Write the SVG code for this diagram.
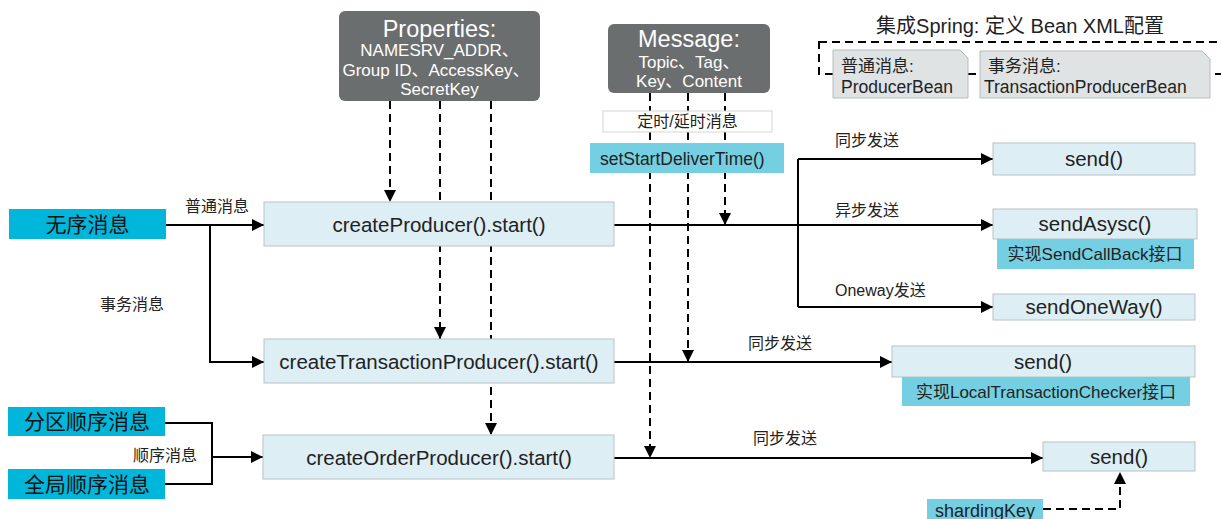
<svg xmlns="http://www.w3.org/2000/svg" width="1221" height="519" viewBox="0 0 1221 519">
<defs>
<marker id="ah" markerUnits="userSpaceOnUse" markerWidth="13" markerHeight="13" refX="12" refY="6" orient="auto">
<path d="M0,0 L12,6 L0,12 Z" fill="#000"/>
</marker>
<style>
text{font-family:"Liberation Sans","Noto Sans CJK SC",sans-serif;fill:#222}
.c{text-anchor:middle}
.dark{fill:#6b6e6e}
.wt{fill:#fff}
.lb{fill:#ddeef5;stroke:#b8c3c7;stroke-width:1}
.cy{fill:#00b6da}
.ty{fill:#74cfe3}
.bean{fill:#dfe3e4;stroke:#b6bdbf;stroke-width:1}
.sl{fill:none;stroke:#000;stroke-width:2}
.dl{fill:none;stroke:#000;stroke-width:2;stroke-dasharray:8 5}
.ar{marker-end:url(#ah)}
.lbl{font-size:16px}
.big{font-size:20.5px}
</style>
</defs>
<rect width="1221" height="519" fill="#fff"/>

<g id="connectors">
<path class="dl ar" d="M390,101 V202"/>
<path class="dl ar" d="M440,101 V339"/>
<path class="dl ar" d="M491,101 V435"/>
<path class="dl ar" d="M725,93 V225"/>
<path class="dl ar" d="M688,93 V362"/>
<path class="dl ar" d="M650,93 V458"/>
<path class="sl ar" d="M166,225 H264"/>
<path class="sl ar" d="M210,225 V362 H264"/>
<path class="sl" d="M165,423 H212 V484 H165"/>
<path class="sl ar" d="M212,457 H263"/>
<path class="sl ar" d="M614,225 H993"/>
<path class="sl" d="M798,159 V307"/>
<path class="sl ar" d="M798,159 H993"/>
<path class="sl ar" d="M798,307 H993"/>
<path class="sl ar" d="M614,362 H892"/>
<path class="sl ar" d="M614,458 H1043"/>
<path class="dl ar" d="M1043,509 H1120 V472"/>
<rect x="819" y="42" width="420" height="32" class="dl"/>
<text class="lbl c" x="217" y="212">普通消息</text>
<text class="lbl c" x="132" y="310">事务消息</text>
<text class="lbl c" x="165" y="461">顺序消息</text>
<text class="lbl" x="835" y="146">同步发送</text>
<text class="lbl" x="835" y="216">异步发送</text>
<text class="lbl" x="835" y="296">Oneway发送</text>
<text class="lbl" x="748" y="349">同步发送</text>
<text class="lbl" x="753" y="444">同步发送</text>
</g>

<g id="title">
<text class="c" x="1020" y="33" font-size="20">集成Spring: 定义 Bean XML配置</text>
</g>

<g id="properties">
<rect x="339" y="11" width="201" height="90" rx="6" class="dark"/>
<text class="c wt" x="439.5" y="37" font-size="23.5">Properties:</text>
<text class="c wt" x="439.5" y="56" font-size="17">NAMESRV_ADDR、</text>
<text class="c wt" x="436" y="76" font-size="17">Group ID、AccessKey、</text>
<text class="c wt" x="439.5" y="95" font-size="17">SecretKey</text>
</g>

<g id="message">
<rect x="608" y="24" width="162" height="69" rx="6" class="dark"/>
<text class="c wt" x="689" y="47" font-size="23.5">Message:</text>
<text class="c wt" x="689" y="68" font-size="17">Topic、Tag、</text>
<text class="c wt" x="689" y="87" font-size="17">Key、Content</text>
</g>

<g id="timed">
<rect x="603" y="111" width="169" height="21" fill="#fff" stroke="#d6d6d6"/>
<text class="c" x="687.5" y="127" font-size="16">定时/延时消息</text>
</g>

<g id="setStartDeliverTime">
<rect x="590" y="143" width="194" height="30" class="ty"/>
<text x="600" y="165" font-size="17.5">setStartDeliverTime()</text>
</g>

<g id="producerBean">
<path d="M833,50 H960 L968,58 V98 H833 Z" class="bean"/>
<text x="841" y="72" font-size="17">普通消息:</text>
<text x="841" y="93" font-size="17.5">ProducerBean</text>
</g>

<g id="transactionProducerBean">
<path d="M980,51 H1202 L1210,59 V98 H980 Z" class="bean"/>
<text x="988" y="72" font-size="17">事务消息:</text>
<text x="984" y="93" font-size="17.5">TransactionProducerBean</text>
</g>

<g id="unordered">
<rect x="9" y="209" width="157" height="30" class="cy"/>
<text class="c" x="87.5" y="232" font-size="21" style="fill:#111">无序消息</text>
</g>

<g id="partitionOrder">
<rect x="8" y="407" width="157" height="29" class="cy"/>
<text class="c" x="87" y="429" font-size="21" style="fill:#111">分区顺序消息</text>
</g>

<g id="globalOrder">
<rect x="8" y="469" width="157" height="30" class="cy"/>
<text class="c" x="87" y="492" font-size="21" style="fill:#111">全局顺序消息</text>
</g>

<g id="createProducer">
<rect x="264" y="202" width="350" height="44" class="lb"/>
<text class="c big" x="439" y="232">createProducer().start()</text>
</g>

<g id="createTransactionProducer">
<rect x="264" y="339" width="350" height="44" class="lb"/>
<text class="c big" x="439" y="369">createTransactionProducer().start()</text>
</g>

<g id="createOrderProducer">
<rect x="263" y="435" width="351" height="44" class="lb"/>
<text class="c big" x="439" y="465">createOrderProducer().start()</text>
</g>

<g id="send1">
<rect x="993" y="143" width="202" height="32" class="lb"/>
<text class="c big" x="1094" y="166">send()</text>
</g>

<g id="sendAsysc">
<rect x="993" y="209" width="204" height="30" class="lb"/>
<text class="c big" x="1095" y="231">sendAsysc()</text>
</g>

<g id="sendCallBack">
<rect x="997" y="239" width="197" height="30" class="ty"/>
<text class="c" x="1095" y="260" font-size="17">实现SendCallBack接口</text>
</g>

<g id="sendOneWay">
<rect x="993" y="294" width="202" height="26" class="lb"/>
<text class="c big" x="1094" y="314">sendOneWay()</text>
</g>

<g id="send2">
<rect x="892" y="346" width="303" height="31" class="lb"/>
<text class="c big" x="1043" y="369">send()</text>
</g>

<g id="localTransactionChecker">
<rect x="902" y="377" width="288" height="29" class="ty"/>
<text class="c" x="1046" y="398" font-size="17">实现LocalTransactionChecker接口</text>
</g>

<g id="send3">
<rect x="1043" y="442" width="152" height="29" class="lb"/>
<text class="c big" x="1119" y="464">send()</text>
</g>

<g id="shardingKey">
<rect x="927" y="499" width="116" height="25" class="ty"/>
<text class="c" x="985" y="517" font-size="18">shardingKey</text>
</g>
</svg>
